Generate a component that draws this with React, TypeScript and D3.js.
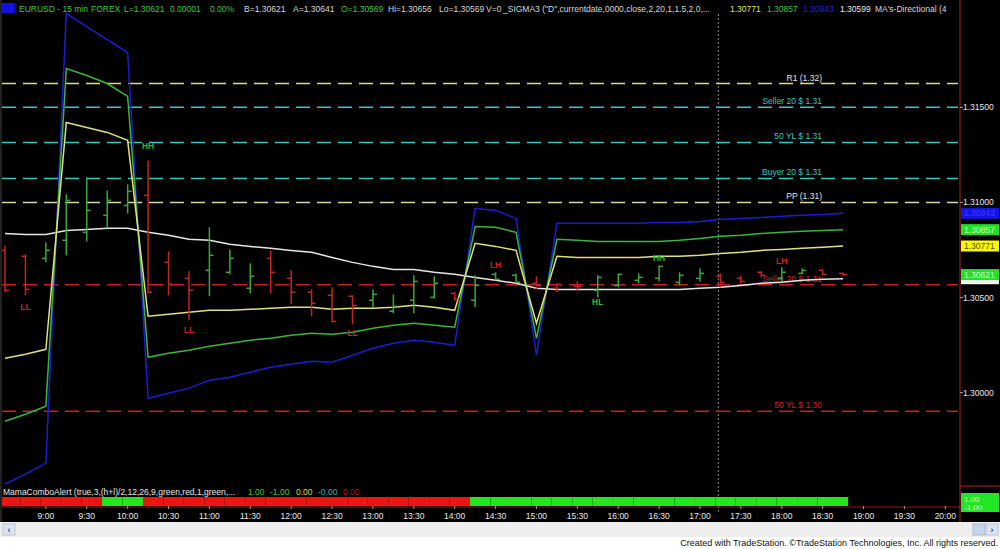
import React from "react";
import * as d3 from "d3";

// ---------- DATA ----------
const opens = [1.30748,1.30717,1.30706,1.30801,1.30843,1.30932,1.30984,1.31037,1.30685,1.30601,1.30643,1.30633,1.30549,1.30706,1.30601,1.30528,1.30512,1.30507,1.30486,1.30428,1.30486,1.30501,1.30522,1.30486,1.30622,1.30617,1.30575,1.30549,1.30559,1.30538,1.30564,1.30591,1.30601,1.3058,1.30601,1.30612,1.30601,1.30633,1.30601,1.30627,1.30643,1.30627];
const highs = [1.30774,1.30727,1.3079,1.31042,1.31131,1.31063,1.31095,1.31221,1.30743,1.30638,1.30869,1.30753,1.3068,1.30748,1.30643,1.30543,1.30554,1.30512,1.30543,1.30517,1.30617,1.30612,1.30528,1.30617,1.30633,1.30627,1.30612,1.30575,1.30585,1.30617,1.30627,1.30627,1.30669,1.30633,1.30654,1.30627,1.30617,1.30638,1.30659,1.30654,1.30648,1.30633];
const lows = [1.30528,1.30512,1.30685,1.30722,1.30795,1.30869,1.30942,1.30522,1.30512,1.30381,1.30507,1.30622,1.30522,1.30522,1.30465,1.30402,1.3037,1.3036,1.30449,1.30417,1.30417,1.30496,1.30486,1.30449,1.30591,1.30575,1.30543,1.30528,1.30538,1.30501,1.30554,1.30575,1.30585,1.30564,1.30585,1.30554,1.30575,1.30606,1.30585,1.30622,1.30617,1.30612];
const closes = [1.30538,1.30543,1.30748,1.31011,1.30958,1.31011,1.31058,1.30528,1.3057,1.30538,1.30722,1.30706,1.30612,1.30633,1.30528,1.3047,1.30375,1.30459,1.30517,1.30454,1.30585,1.30575,1.30491,1.30564,1.30596,1.3058,1.30564,1.3057,1.30559,1.30606,1.30622,1.30606,1.30664,1.30617,1.30627,1.3058,1.30585,1.30617,1.30633,1.30643,1.30622,1.30621];
const trend = [-1,-1,1,1,1,1,1,-1,-1,-1,1,1,1,-1,-1,-1,-1,-1,1,1,1,1,-1,1,1,1,-1,-1,-1,1,1,1,1,1,1,-1,-1,-1,1,1,-1,-1];

const maWhite = [1.30837,1.30832,1.30832,1.30853,1.30858,1.30864,1.30864,1.30843,1.30827,1.30806,1.30801,1.3078,1.30769,1.30759,1.30748,1.30738,1.30711,1.30685,1.30664,1.30648,1.30648,1.30633,1.30622,1.30606,1.30591,1.30575,1.30549,1.30543,1.30543,1.30543,1.30543,1.30543,1.30543,1.30543,1.30549,1.30554,1.30564,1.30575,1.3058,1.30591,1.30596,1.30599];
const sigmaYellow = [1.30181,1.30202,1.30228,1.3142,1.31394,1.31368,1.31326,1.30402,1.30412,1.30423,1.30433,1.30433,1.30438,1.30444,1.30449,1.30449,1.30438,1.30444,1.30444,1.30449,1.30459,1.30449,1.30433,1.30785,1.30769,1.30748,1.30365,1.30717,1.30711,1.30711,1.30711,1.30711,1.30717,1.30717,1.30722,1.30732,1.30738,1.30748,1.30753,1.30759,1.30764,1.30771];
const sigmaGreen = [1.2985,1.29887,1.29929,1.31704,1.31667,1.31625,1.31557,1.30186,1.30207,1.30223,1.30244,1.3026,1.30276,1.30286,1.30302,1.30312,1.30307,1.30318,1.30339,1.30354,1.30365,1.30354,1.30344,1.30874,1.30869,1.30843,1.30286,1.30806,1.30801,1.30795,1.30795,1.30795,1.30795,1.30801,1.30811,1.30822,1.30827,1.30837,1.30843,1.30848,1.30853,1.30857];
const sigmaBlue = [1.2952,1.29572,1.2963,1.31992,1.31924,1.31856,1.31788,1.29971,1.29997,1.30024,1.30066,1.30081,1.30108,1.30134,1.3015,1.30165,1.3016,1.30197,1.30234,1.3026,1.30276,1.30265,1.30249,1.30969,1.30958,1.30916,1.30197,1.3089,1.3089,1.3089,1.3089,1.3089,1.30895,1.30895,1.309,1.30911,1.30916,1.30921,1.30927,1.30932,1.30937,1.30943];

const alertState = [-1,-1,-1,-1,-1,1,1,-1,-1,-1,-1,-1,-1,-1,-1,-1,-1,-1,-1,-1,-1,-1,-1,1,1,1,1,1,1,1,1,1,1,1,1,1,1,1,1,1,1,1];

const swingText = ["LL","HH","LL","LL","LH","HL","HH","LH"];
const swingIndex = [1,7,9,17,24,29,32,38];
const swingPrice = [1.30449,1.31299,1.30328,1.30312,1.30669,1.30475,1.30706,1.3069];

const levelLabels = ["R1 (1.32)","Seller 20 $ 1.31","50 YL $ 1.31","Buyer 20 $ 1.31","PP (1.31)","Seller 20 $ 1.31","50 YL $ 1.30"];
const levelValues = [1.31625,1.315,1.31315,1.31126,1.31,1.30568,1.29903];
const levelKinds = ["pivot","zone","zone","zone","pivot","support","support"];

const priceTicks = [1.30,1.305,1.31,1.315];
const timeTicks = ["9:00","9:30","10:00","10:30","11:00","11:30","12:00","12:30","13:00","13:30","14:00","14:30","15:00","15:30","16:00","16:30","17:00","17:30","18:00","18:30","19:00","19:30","20:00"];
const firstBarMinutes = 8 * 60 + 30;
const barMinutes = 15;
const sessionBreakIndex = 34.9;

const lastValues = [
  { v: 1.30599, fill: "#f4f4f4", text: "" },
  { v: 1.30943, fill: "#1414e6", text: "#3a3aff" },
  { v: 1.30857, fill: "#22e022", text: "#d8ffd8" },
  { v: 1.30771, fill: "#f8f800", text: "#505000" },
  { v: 1.30621, fill: "#22e022", text: "#d8ffd8" },
];

// ---------- LAYOUT ----------
const W = 1000, H = 549;
const plotLeft = 2, plotRight = 960, mainBottom = 486;
const x = d3.scaleLinear().domain([0, 46.72]).range([5, 960]);
const y = d3.scaleLinear().domain([1.30, 1.315]).range([392.7, 107.3]);
const FONT = "'Liberation Sans', Arial, sans-serif";

const levelColor: Record<string, string> = { pivot: "#d8d89a", zone: "#3cc4c4", support: "#c82020" };
const levelText: Record<string, string> = { pivot: "#e4e4e4", zone: "#3cc4c4", support: "#d02020" };

function App() {
  const n = closes.length;
  const line = d3.line<number>().x((_, i) => x(i)).y((d) => y(d));
  const tIndex = (t: string) => {
    const [h, m] = t.split(":").map(Number);
    return (h * 60 + m - firstBarMinutes) / barMinutes;
  };

  const header: [string, number, string][] = [
    ["EURUSD - 15 min", 19, "#3cc83c"],
    ["FOREX", 91, "#3cc83c"],
    ["L=1.30621", 124, "#3cc83c"],
    ["0.00001", 170, "#3cc83c"],
    ["0.00%", 210, "#3cc83c"],
    ["B=1.30621", 244, "#d8d8d8"],
    ["A=1.30641", 293, "#d8d8d8"],
    ["O=1.30569", 341, "#3cc83c"],
    ["Hi=1.30656", 388, "#d8d8d8"],
    ["Lo=1.30569", 439, "#d8d8d8"],
    ["V=0", 486, "#d8d8d8"],
    ['_SIGMA3 ("D",currentdate,0000,close,2,20,1,1.5,2,0,...', 503, "#d8d8d8"],
    ["1.30771", 730, "#e0e060"],
    ["1.30857", 767, "#3cc83c"],
    ["1.30943", 803, "#2020e0"],
    ["1.30599", 840, "#e8e8e8"],
    ["MA's-Directional (4", 875, "#d8d8d8"],
  ];

  const alertParts: [string, number, string][] = [
    ["MamaComboAlert (true,3,(h+l)/2,12,26,9,green,red,1,green,...", 3, "#e8e8e8"],
    ["1.00", 248, "#3cc83c"],
    ["-1.00", 270, "#3cc83c"],
    ["0.00", 296, "#d8d840"],
    ["-0.00", 318, "#30b8b8"],
    ["0.00", 343, "#b01818"],
  ];

  return (
    <svg width={W} height={H} style={{ position: "absolute", left: 0, top: 0, display: "block" }} fontFamily={FONT}>
      <defs>
        <clipPath id="mainClip"><rect x={plotLeft} y={0} width={plotRight - plotLeft} height={mainBottom} /></clipPath>
        <clipPath id="headClip"><rect x={0} y={0} width={956} height={20} /></clipPath>
      </defs>
      <rect x={0} y={0} width={W} height={H} fill="#ffffff" />
      <rect x={0} y={0} width={W} height={522} fill="#000000" />
      <line x1={1} x2={1} y1={0} y2={522} stroke="#444" />

      {/* session break */}
      <line x1={x(sessionBreakIndex)} x2={x(sessionBreakIndex)} y1={14} y2={512} stroke="#8a8a8a" strokeDasharray="2,2" />

      <g clipPath="url(#mainClip)">
        {levelValues.map((v, i) => (
          <g key={"lv" + i}>
            <line x1={plotLeft} x2={958} y1={y(v)} y2={y(v)} stroke={levelColor[levelKinds[i]]} strokeWidth={1.5} strokeDasharray="14,7" />
            <text x={822} y={y(v) - 3} textAnchor="end" fontSize={8.5} fill={levelText[levelKinds[i]]}>{levelLabels[i]}</text>
          </g>
        ))}

        <path d={line(maWhite) || ""} fill="none" stroke="#e6e6e6" strokeWidth={1.5} />
        <path d={line(sigmaBlue) || ""} fill="none" stroke="#1c1cd0" strokeWidth={1.5} />
        <path d={line(sigmaGreen) || ""} fill="none" stroke="#3cb43c" strokeWidth={1.5} />
        <path d={line(sigmaYellow) || ""} fill="none" stroke="#e0e080" strokeWidth={1.5} />

        {closes.map((c, i) => {
          const col = trend[i] > 0 ? "#3aa83a" : "#c42424";
          const cx = x(i);
          return (
            <g key={"b" + i} stroke={col} strokeWidth={1.5}>
              <line x1={cx} x2={cx} y1={y(highs[i])} y2={y(lows[i])} />
              <line x1={cx - 4} x2={cx} y1={y(opens[i])} y2={y(opens[i])} />
              <line x1={cx} x2={cx + 4} y1={y(c)} y2={y(c)} />
            </g>
          );
        })}

        {swingText.map((t, i) => (
          <text key={"s" + i} x={x(swingIndex[i])} y={y(swingPrice[i])} dy="0.35em" textAnchor="middle" fontSize={8.5} fontWeight="bold"
            fill={t[0] === "H" ? "#30b830" : "#c82020"}>{t}</text>
        ))}
      </g>

      {/* header */}
      <rect x={2} y={3} width={13} height={10} fill="#1010e0" />
      <g clipPath="url(#headClip)">
        {header.map(([t, hx, col], i) => (
          <text key={"h" + i} x={hx} y={12} fontSize={8.5} fill={col}>{t}</text>
        ))}
      </g>

      {/* right axis */}
      <line x1={plotRight} x2={plotRight} y1={0} y2={522} stroke="#b02020" />
      <line x1={plotRight} x2={W} y1={mainBottom} y2={mainBottom} stroke="#b02020" />
      {priceTicks.map((p, i) => (
        <g key={"pt" + i}>
          <line x1={plotRight} x2={plotRight + 3} y1={y(p)} y2={y(p)} stroke="#aaa" />
          <text x={963} y={y(p)} dy="0.35em" fontSize={8.5} fill="#e8e8e8">{d3.format(".5f")(p)}</text>
        </g>
      ))}
      {lastValues.map((lv, i) => (
        <g key={"lv2" + i}>
          <rect x={961} y={y(lv.v) - 5.5} width={38} height={11} fill={lv.fill} />
          {lv.text ? <text x={964} y={y(lv.v)} dy="0.35em" fontSize={8.5} fill={lv.text}>{d3.format(".5f")(lv.v)}</text> : null}
        </g>
      ))}

      {/* bottom indicator panel */}
      {alertParts.map(([t, ax, col], i) => (
        <text key={"a" + i} x={ax} y={495} fontSize={8.5} fill={col}>{t}</text>
      ))}
      <line x1={plotLeft} x2={plotRight} y1={507} y2={507} stroke="#901818" />
      {alertState.map((s, i) => {
        const x0 = Math.max(x(i - 0.25), plotLeft);
        const x1 = x(Math.min(i + 0.75, n - 0.75));
        return <rect key={"al" + i} x={x0} y={497} width={x1 - x0} height={9} fill={s > 0 ? "#22e622" : "#ee1414"} />;
      })}
      <rect x={961} y={493} width={38} height={19} fill="#22e622" />
      <text x={964} y={502} fontSize={8} fill="#d8ffd8">1.00</text>
      <text x={964} y={510} fontSize={8} fill="#d8ffd8">-1.00</text>

      {/* time axis */}
      {timeTicks.map((t, i) => (
        <g key={"tt" + i}>
          <line x1={x(tIndex(t))} x2={x(tIndex(t))} y1={506} y2={509} stroke="#9a9a9a" />
          <text x={x(tIndex(t))} y={519} textAnchor="middle" fontSize={8.5} fill="#e8e8e8">{t}</text>
        </g>
      ))}

      {/* scrollbar */}
      <rect x={0} y={522} width={W} height={15} fill="#eeeeee" />
      <rect x={3} y={524} width={12} height={11} fill="#dde4f0" stroke="#b8c4d8" />
      <text x={9} y={533} textAnchor="middle" fontSize={9} fill="#3050a0" fontWeight="bold">‹</text>
      <rect x={973} y={524} width={12} height={11} fill="#c8d4ec" stroke="#a8b8d8" />
      <rect x={986} y={524} width={12} height={11} fill="#dde4f0" stroke="#b8c4d8" />
      <text x={992} y={533} textAnchor="middle" fontSize={9} fill="#3050a0" fontWeight="bold">›</text>
      <text x={998} y={546} textAnchor="end" fontSize={9} fill="#111">Created with TradeStation. ©TradeStation Technologies, Inc. All rights reserved.</text>
    </svg>
  );
}

export default App;
